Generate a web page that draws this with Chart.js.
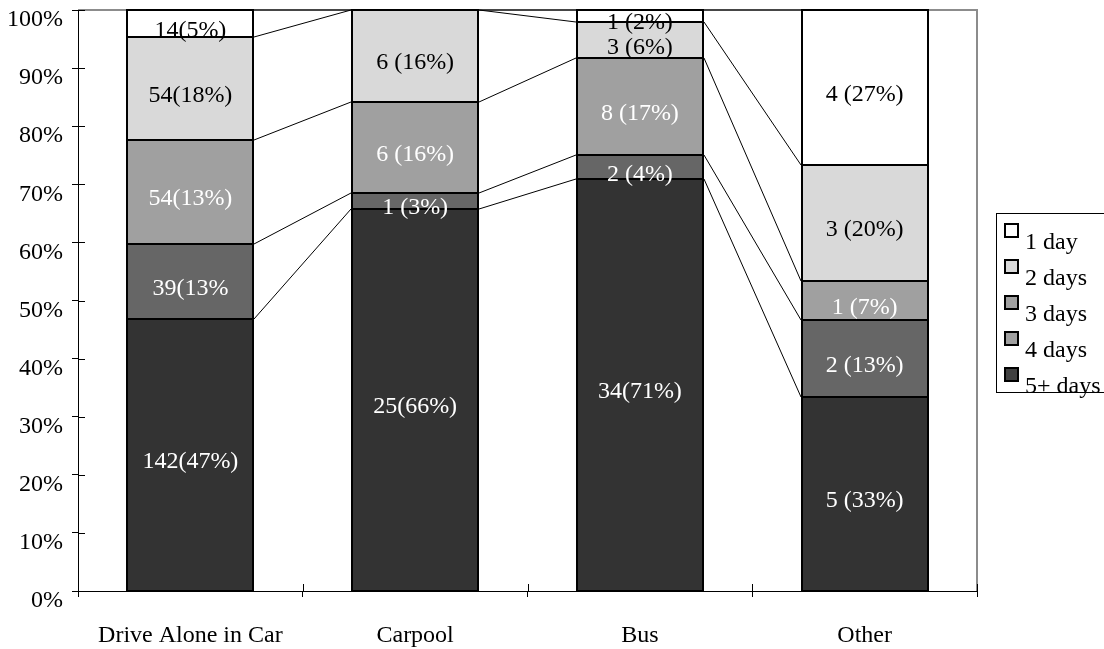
<!DOCTYPE html>
<html>
<head>
<meta charset="utf-8">
<script src="https://cdn.jsdelivr.net/npm/chart.js@4.4.1/dist/chart.umd.min.js"></script>
<style>
  html, body { margin: 0; padding: 0; background: #fff; }
  #wrap { width: 1104px; height: 649px; position: relative; }
</style>
</head>
<body>
<div id="wrap"><canvas id="c" width="1104" height="649"></canvas></div>
<script>
// Travel mode categories
const categories = ['Drive Alone in Car', 'Carpool', 'Bus', 'Other'];

// Respondent counts per mode, by days per week (stacked bottom to top)
const seriesNames = ['5+ days', '4 days', '3 days', '2 days', '1 day'];
const fivePlusDays = [142, 25, 34, 5];
const fourDays     = [39, 1, 2, 2];
const threeDays    = [54, 6, 8, 1];
const twoDays      = [54, 6, 3, 3];
const oneDay       = [14, 0, 1, 4];

// Text printed inside each segment
const fivePlusLabels = ['142(47%)', '25(66%)', '34(71%)', '5 (33%)'];
const fourLabels     = ['39(13%', '1 (3%)', '2 (4%)', '2 (13%)'];
const threeLabels    = ['54(13%)', '6 (16%)', '8 (17%)', '1 (7%)'];
const twoLabels      = ['54(18%)', '6 (16%)', '3 (6%)', '3 (20%)'];
const oneLabels      = ['14(5%)', '', '1 (2%)', '4 (27%)'];

// Y axis tick labels
const yTickLabels = ['0%', '10%', '20%', '30%', '40%', '50%', '60%', '70%', '80%', '90%', '100%'];

const counts = [fivePlusDays, fourDays, threeDays, twoDays, oneDay];
const segmentLabels = [fivePlusLabels, fourLabels, threeLabels, twoLabels, oneLabels];
const totals = categories.map((_, i) => counts.reduce((s, arr) => s + arr[i], 0));

const FONT = "'Liberation Serif', 'Times New Roman', Times, serif";
const FONT_SIZE = 24;
const fills       = ['#333333', '#666666', '#a0a0a0', '#d9d9d9', '#ffffff'];
const legendFills = ['#404040', '#a0a0a0', '#a0a0a0', '#d9d9d9', '#ffffff'];
const textColors  = ['#ffffff', '#ffffff', '#ffffff', '#000000', '#000000'];

const datasets = seriesNames.map((name, k) => ({
  label: name,
  data: counts[k].map((v, i) => v / totals[i] * 100),
  backgroundColor: fills[k],
  borderWidth: 0,
  segmentText: segmentLabels[k],
  textColor: textColors[k],
  legendFill: legendFills[k]
}));

// Grey frame on the top and right of the plot area
const frame = {
  id: 'frame',
  beforeDatasetsDraw(chart) {
    const { ctx, chartArea: a } = chart;
    ctx.save();
    ctx.strokeStyle = '#8c8c8c';
    ctx.lineWidth = 2;
    ctx.beginPath();
    ctx.moveTo(a.left, a.top);
    ctx.lineTo(a.right, a.top);
    ctx.lineTo(a.right, a.bottom);
    ctx.stroke();
    ctx.restore();
  }
};

// Black outline round every segment
const outlines = {
  id: 'outlines',
  afterDatasetsDraw(chart) {
    const { ctx } = chart;
    ctx.save();
    ctx.strokeStyle = '#000';
    ctx.lineWidth = 2;
    chart.data.datasets.forEach((ds, k) => {
      chart.getDatasetMeta(k).data.forEach(bar => {
        if (Math.abs(bar.base - bar.y) < 0.5) return;
        const l = Math.round(bar.x - bar.width / 2);
        const r = Math.round(bar.x + bar.width / 2);
        const t = Math.round(bar.y);
        const b = Math.round(bar.base);
        ctx.strokeRect(l, t, r - l, b - t);
      });
    });
    ctx.restore();
  }
};

// Series lines joining matching segment edges of neighbouring bars
const seriesLines = {
  id: 'seriesLines',
  afterDatasetsDraw(chart) {
    const { ctx } = chart;
    ctx.save();
    ctx.strokeStyle = '#000';
    ctx.lineWidth = 1;
    chart.data.datasets.forEach((ds, k) => {
      const bars = chart.getDatasetMeta(k).data;
      for (let i = 0; i < bars.length - 1; i++) {
        const a = bars[i], b = bars[i + 1];
        ctx.beginPath();
        ctx.moveTo(Math.round(a.x + a.width / 2) + 1, Math.round(a.y));
        ctx.lineTo(Math.round(b.x - b.width / 2) - 1, Math.round(b.y));
        ctx.stroke();
      }
    });
    ctx.restore();
  }
};

// Count / percent text inside each segment
const segmentText = {
  id: 'segmentText',
  afterDatasetsDraw(chart) {
    const { ctx } = chart;
    ctx.save();
    ctx.font = FONT_SIZE + 'px ' + FONT;
    ctx.textAlign = 'center';
    ctx.textBaseline = 'middle';
    chart.data.datasets.forEach((ds, k) => {
      chart.getDatasetMeta(k).data.forEach((bar, i) => {
        const t = ds.segmentText[i];
        if (!t) return;
        ctx.fillStyle = ds.textColor;
        ctx.fillText(t, bar.x, (bar.y + bar.base) / 2 + 7);
      });
    });
    ctx.restore();
  }
};

// Tick marks crossing the axes
const crossTicks = {
  id: 'crossTicks',
  afterDraw(chart) {
    const { ctx, chartArea: a, scales } = chart;
    ctx.save();
    ctx.strokeStyle = '#000';
    ctx.lineWidth = 1;
    scales.y.ticks.forEach((t, i) => {
      if (i === 0) return;
      const y = Math.round(scales.y.getPixelForTick(i)) + 0.5;
      ctx.beginPath();
      ctx.moveTo(a.left, y);
      ctx.lineTo(a.left + 7, y);
      ctx.stroke();
    });
    const n = scales.x.ticks.length;
    const step = (a.right - a.left) / n;
    for (let i = 1; i <= n; i++) {
      const x = Math.round(a.left + step * i) + 0.5;
      ctx.beginPath();
      ctx.moveTo(x, a.bottom);
      ctx.lineTo(x, a.bottom - 7);
      ctx.stroke();
    }
    ctx.restore();
  }
};

// Boxed legend on the right, top series first
const boxLegend = {
  id: 'boxLegend',
  afterDraw(chart) {
    const { ctx } = chart;
    const left = 996, top = 213, height = 179;
    ctx.save();
    ctx.strokeStyle = '#000';
    ctx.lineWidth = 1;
    ctx.strokeRect(left + 0.5, top + 0.5, 140, height);
    ctx.font = FONT_SIZE + 'px ' + FONT;
    ctx.textAlign = 'left';
    ctx.textBaseline = 'alphabetic';
    const items = chart.data.datasets.slice().reverse();
    items.forEach((ds, i) => {
      const sy = 224 + 36 * i;
      ctx.fillStyle = ds.legendFill;
      ctx.fillRect(1005, sy, 13, 13);
      ctx.lineWidth = 2;
      ctx.strokeStyle = '#000';
      ctx.strokeRect(1005, sy, 13, 13);
      ctx.fillStyle = '#000';
      ctx.fillText(ds.label, 1025, sy + 25);
    });
    ctx.restore();
  }
};

new Chart(document.getElementById('c'), {
  type: 'bar',
  data: { labels: categories, datasets },
  plugins: [frame, outlines, seriesLines, segmentText, crossTicks, boxLegend],
  options: {
    responsive: false,
    animation: false,
    devicePixelRatio: 1,
    layout: { padding: { top: 10, right: 127, left: 0, bottom: 0 } },
    plugins: { legend: { display: false }, tooltip: { enabled: false } },
    datasets: { bar: { categoryPercentage: 1, barPercentage: 0.56 } },
    scales: {
      x: {
        stacked: true,
        grid: { display: true, drawOnChartArea: false, drawTicks: true, tickLength: 6, color: '#000', lineWidth: 1, offset: true },
        border: { display: true, color: '#000', width: 1 },
        ticks: { color: '#000', font: { family: FONT, size: FONT_SIZE }, padding: 24, maxRotation: 0, autoSkip: false },
        afterFit(s) { s.height = 58; s.paddingLeft = 0; s.paddingRight = 0; }
      },
      y: {
        stacked: true,
        min: 0,
        max: 100,
        grid: { display: true, drawOnChartArea: false, drawTicks: true, tickLength: 6, color: '#000', lineWidth: 1 },
        border: { display: true, color: '#000', width: 1 },
        ticks: {
          stepSize: 10,
          color: '#000',
          font: { family: FONT, size: FONT_SIZE },
          padding: 9,
          labelOffset: 10,
          callback: (v, i) => yTickLabels[i]
        },
        afterFit(s) { s.width = 78; s.paddingTop = 0; s.paddingBottom = 0; }
      }
    }
  }
});
</script>
</body>
</html>
